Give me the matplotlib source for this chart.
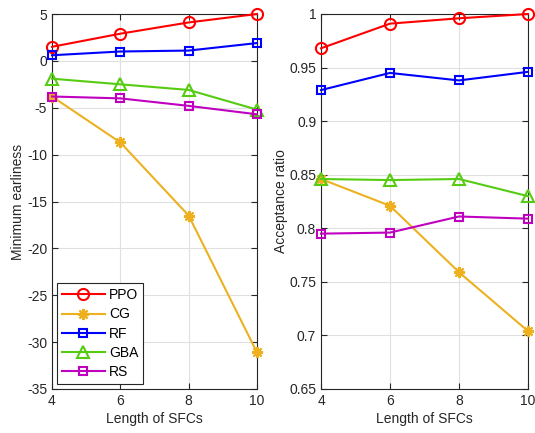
import matplotlib
matplotlib.use("Agg")
import matplotlib.pyplot as plt

plt.rcParams['font.family'] = ['Liberation Sans', 'DejaVu Sans']
plt.rcParams['axes.unicode_minus'] = False

x = [4, 6, 8, 10]
names = ["PPO", "CG", "RF", "GBA", "RS"]
earliness = {
    "PPO": [1.5, 2.9, 4.1, 5.0],
    "CG": [-3.8, -8.7, -16.5, -31.1],
    "RF": [0.6, 1.0, 1.1, 1.9],
    "GBA": [-1.9, -2.5, -3.1, -5.2],
    "RS": [-3.8, -4.0, -4.8, -5.7],
}
acceptance = {
    "PPO": [0.968, 0.991, 0.996, 1.0],
    "CG": [0.846, 0.821, 0.759, 0.704],
    "RF": [0.929, 0.945, 0.938, 0.946],
    "GBA": [0.846, 0.845, 0.846, 0.830],
    "RS": [0.795, 0.796, 0.811, 0.809],
}
colors = {"PPO": "#ff0000", "CG": "#edb120", "RF": "#0000ff", "GBA": "#55cc11", "RS": "#bf00bf"}
markers = {"PPO": "o", "CG": (8, 2, 0), "RF": "s", "GBA": "^", "RS": "s"}
msizes = {"PPO": 8, "CG": 8, "RF": 6, "GBA": 8, "RS": 6}

fig = plt.figure(figsize=(5.35, 4.33), dpi=100)
ax1 = fig.add_axes([52/535, 1-389/433, (257-52)/535, (389-14)/433])
ax2 = fig.add_axes([321/535, 1-389/433, (528-321)/535, (389-14)/433])

for ax, data in [(ax1, earliness), (ax2, acceptance)]:
    for n in names:
        ax.plot(x, data[n], color=colors[n], marker=markers[n], markersize=msizes[n],
                markerfacecolor='none', markeredgewidth=1.5, linewidth=1.5, label=n,
                clip_on=False, zorder=3)
    ax.set_xlim(4, 10)
    ax.set_xticks([4, 6, 8, 10])
    ax.grid(True, color='#e0e0e0', linewidth=0.8)
    ax.set_axisbelow(True)
    ax.tick_params(direction='in', top=True, right=True, labelsize=10, colors='#262626', length=4)
    for s in ax.spines.values():
        s.set_color('#262626')
        s.set_linewidth(0.8)
    ax.set_xlabel("Length of SFCs", fontsize=10, color='#262626', labelpad=3)

ax1.set_ylim(-35, 5)
ax1.set_yticks(range(-35, 6, 5))
ax1.set_ylabel("Minimum earliness", fontsize=10, color='#262626', labelpad=1)
ax2.set_ylim(0.65, 1.0)
ax2.set_yticks([0.65, 0.7, 0.75, 0.8, 0.85, 0.9, 0.95, 1.0])
ax2.set_yticklabels(["0.65", "0.7", "0.75", "0.8", "0.85", "0.9", "0.95", "1"])
ax2.set_ylabel("Acceptance ratio", fontsize=10, color='#262626', labelpad=1)

leg = ax1.legend(loc='lower left', fontsize=10, fancybox=False, edgecolor='#262626',
                 framealpha=1, handlelength=3.1, handletextpad=0.3, borderpad=0.35,
                 borderaxespad=0.35, labelspacing=0.38)
leg.get_frame().set_linewidth(0.8)
leg.set_zorder(5)

fig.savefig("out.png", dpi=100)
